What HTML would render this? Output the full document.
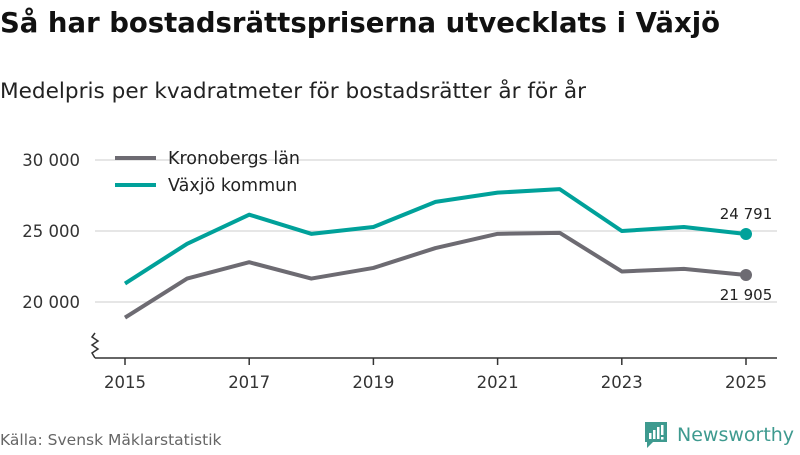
<!DOCTYPE html>
<html><head><meta charset="utf-8"><style>
body{margin:0;width:800px;height:450px;background:#fff;font-family:"Liberation Sans","DejaVu Sans",sans-serif;overflow:hidden}
</style></head><body>
<svg width="800" height="450" xmlns="http://www.w3.org/2000/svg" id="chart">
<text x="0" y="32" font-size="27.5" font-weight="bold" fill="#111" font-family="DejaVu Sans, sans-serif">Så har bostadsrättspriserna utvecklats i Växjö</text>
<text x="0" y="98" font-size="21.6" fill="#222" font-family="DejaVu Sans, sans-serif">Medelpris per kvadratmeter för bostadsrätter år för år</text>
<g id="grid"></g><g id="xaxis"></g><g id="series"></g>
<g>
<line x1="115" y1="158" x2="156" y2="158" stroke="#6d6b72" stroke-width="4"/>
<text x="168" y="164" font-size="17.5" fill="#222" font-family="DejaVu Sans, sans-serif">Kronobergs län</text>
<line x1="115" y1="185" x2="156" y2="185" stroke="#00a19a" stroke-width="4"/>
<text x="168" y="191" font-size="17.5" fill="#222" font-family="DejaVu Sans, sans-serif">Växjö kommun</text>
</g>
<text x="0" y="445" font-size="15.5" fill="#666" font-family="DejaVu Sans, sans-serif">Källa: Svensk Mäklarstatistik</text>
<g>
<path d="M645 422h22v20h-14l-6 6v-6h-2z" fill="#3e9a8f"/>
<rect x="649" y="433" width="2.5" height="6" fill="#fff"/><rect x="653" y="430" width="2.5" height="9" fill="#fff"/><rect x="657" y="427" width="2.5" height="12" fill="#fff"/><rect x="661" y="425" width="2.5" height="10" fill="#fff"/><rect x="661" y="437" width="2.5" height="2.5" fill="#fff"/>
<text x="677" y="441" font-size="19" fill="#3e9a8f" font-family="DejaVu Sans, sans-serif">Newsworthy</text>
</g>
</svg>
<script>
const years=[2015,2016,2017,2018,2019,2020,2021,2022,2023,2024,2025];
const kronoberg=[18900,21650,22800,21650,22400,23800,24800,24870,22150,22330,21905];
const vaxjo=[21300,24100,26150,24800,25280,27050,27700,27950,25000,25280,24791];
const yTicks=[20000,25000,30000];
const yTickLabels=["20 000","25 000","30 000"];
const xTicks=[2015,2017,2019,2021,2023,2025];
const NS="http://www.w3.org/2000/svg";
const X=y=>125+(y-2015)*62.1;
const Y=v=>302-(v-20000)*71/5000;
function mk(t,a,p){const e=document.createElementNS(NS,t);for(const k in a)e.setAttribute(k,a[k]);p.appendChild(e);return e;}
const g=document.getElementById('grid'),xa=document.getElementById('xaxis'),s=document.getElementById('series');
yTicks.forEach((v,i)=>{
 const l=mk('line',{x1:95,x2:777,y1:Y(v),y2:Y(v),stroke:'#ddd','stroke-width':1.5},g);
 
 
 const t=mk('text',{x:80,y:Y(v)+6,'text-anchor':'end','font-size':16.5,fill:'#333','font-family':'DejaVu Sans, sans-serif'},g);
 t.textContent=yTickLabels[i];
 
 
});
const ax=mk('path',{d:'M95 358H777M95 358l-3-5 6-4-6-4 6-4-6-4 3-4',stroke:'#333','stroke-width':1.5,fill:'none'},xa);


xTicks.forEach(yr=>{
 mk('line',{x1:X(yr),x2:X(yr),y1:358,y2:365,stroke:'#333','stroke-width':1.5},xa);
 const t=mk('text',{x:X(yr),y:388,'text-anchor':'middle','font-size':16.5,fill:'#333','font-family':'DejaVu Sans, sans-serif'},xa);
 t.textContent=yr;
 
 
});
function line(vals,col,name,lblY){
 const p=mk('polyline',{points:vals.map((v,i)=>X(years[i])+','+Y(v)).join(' '),fill:'none',stroke:col,'stroke-width':4,'stroke-linejoin':'round'},s);
 
 
 const n=vals.length-1;
 const c=mk('circle',{cx:X(years[n]),cy:Y(vals[n]),r:6,fill:col},s);
 
 
 const t=mk('text',{x:X(years[n]),y:Y(vals[n])+lblY,'text-anchor':'middle','font-size':15,fill:'#222','font-family':'DejaVu Sans, sans-serif'},s);
 t.textContent=vals[n].toLocaleString('en').replace(',',' ');
 
 
}
line(kronoberg,'#6d6b72','kronoberg',25);
line(vaxjo,'#00a19a','vaxjo',-15);
</script>
</body></html>
